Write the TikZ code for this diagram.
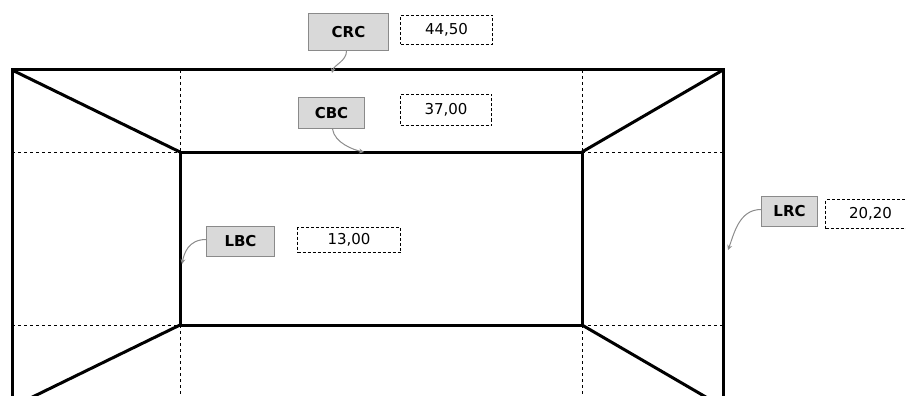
\documentclass[tikz,border=0pt]{standalone}
\usepackage{fontspec}
\setmainfont{DejaVu Sans}
\usetikzlibrary{arrows.meta}
\definecolor{boxgray}{HTML}{D9D9D9}
\definecolor{edgegray}{HTML}{8A8A8A}
\definecolor{arrowgray}{HTML}{8C8C8C}
\begin{document}
\begin{tikzpicture}[x=1pt,y=-1pt,
  wall/.style={line width=3pt,line join=miter},
  guide/.style={line width=1pt,dash pattern=on 3pt off 3pt},
  tag/.style={draw=edgegray,fill=boxgray,line width=1pt,font=\fontsize{15}{17}\selectfont\bfseries,inner sep=0pt,anchor=north west},
  val/.style={draw,line width=1pt,dash pattern=on 3pt off 2pt,font=\fontsize{15}{17}\selectfont,inner sep=0pt,anchor=north west},
  pointer/.style={draw=arrowgray,line width=1pt,-{Stealth[length=5pt,width=5pt]}}]
\useasboundingbox (0,0) rectangle (906,396);
\clip (0,0) rectangle (906,396);
% corners
\coordinate (o1) at (12,70);
\coordinate (o2) at (723,70);
\coordinate (o3) at (723,407);
\coordinate (o4) at (12,407);
\coordinate (i1) at (180,152);
\coordinate (i2) at (582,152);
\coordinate (i3) at (582,325);
\coordinate (i4) at (180,325);
% dashed guides
\draw[guide] (180,70) -- (i1);
\draw[guide] (582,70) -- (i2);
\draw[guide] (i4) -- (180,400);
\draw[guide] (i3) -- (582,400);
\draw[guide] (12,152) -- (i1);
\draw[guide] (i2) -- (723,152);
\draw[guide] (12,325) -- (i4);
\draw[guide] (i3) -- (723,325);
% walls
\draw[wall] (o1) rectangle (o3);
\draw[wall] (i1) rectangle (i3);
\draw[wall] (o1) -- (i1);
\draw[wall] (o2) -- (i2);
\draw[wall] (o3) -- (i3);
\draw[wall] (o4) -- (i4);
% labels
\node[tag,minimum width=80pt,minimum height=37pt] (crc) at (308,13) {CRC};
\node[val,minimum width=92pt,minimum height=29pt] (crcv) at (400,15) {44,50};
\node[tag,minimum width=66pt,minimum height=31pt] (cbc) at (298,97) {CBC};
\node[val,minimum width=91pt,minimum height=31pt] (cbcv) at (400,94) {37,00};
\node[tag,minimum width=68pt,minimum height=30pt] (lbc) at (206,226) {LBC};
\node[val,minimum width=103pt,minimum height=25pt] (lbcv) at (297,227) {13,00};
\node[tag,minimum width=56pt,minimum height=30pt] (lrc) at (761,196) {LRC};
\node[val,minimum width=90pt,minimum height=29pt] (lrcv) at (825,199) {20,20};
% pointers
\coordinate (crct) at (332,73);
\coordinate (cbct) at (364,152);
\coordinate (lbct) at (182,264);
\coordinate (lrct) at (728,250);
\draw[pointer] (crc.south) ++(-2,0) .. controls +(0,10) and +(2,-8) .. (crct);
\draw[pointer] (cbc.south) ++(1,0) .. controls +(2,14) and +(-10,-2) .. (cbct);
\draw[pointer] (lbc.west) ++(0,-2) .. controls +(-18,0) and +(2,-10) .. (lbct);
\draw[pointer] (lrc.west) ++(0,-2) .. controls +(-22,0) and +(6,-16) .. (lrct);
\end{tikzpicture}
\end{document}
